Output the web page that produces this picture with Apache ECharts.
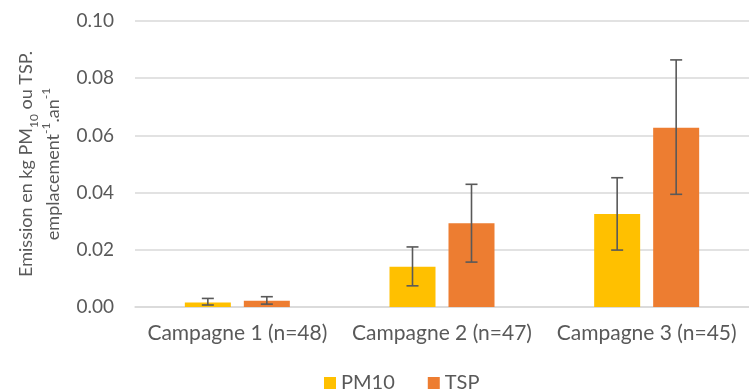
<!DOCTYPE html>
<html><head><meta charset="utf-8">
<script src="https://cdn.jsdelivr.net/npm/echarts@6/dist/echarts.min.js"></script>
<style>html,body{margin:0;padding:0;background:#fff}#c{width:749px;height:392px}</style>
</head><body><div id="c"></div>
<script>
const categories = ['Campagne 1 (n=48)', 'Campagne 2 (n=47)', 'Campagne 3 (n=45)'];
const pm10 = [0.0016, 0.0141, 0.0325];
const pm10Low = [0.0007, 0.0074, 0.0199];
const pm10High = [0.0030, 0.0210, 0.0452];
const tsp = [0.0022, 0.0293, 0.0627];
const tspLow = [0.0010, 0.0157, 0.0394];
const tspHigh = [0.0036, 0.0429, 0.0864];
const yTicks = [0, 0.02, 0.04, 0.06, 0.08, 0.10];

const FONT = 'Lato';
const BAR_W = 46, GAP = 13;
const OFF = (BAR_W + GAP) / 2;

function errSeries(low, high, dir) {
  return {
    type: 'custom',
    silent: true,
    z: 10,
    data: categories.map((c, i) => [i, low[i], high[i]]),
    renderItem: function (params, api) {
      const i = api.value(0);
      const p1 = api.coord([i, api.value(1)]);
      const p2 = api.coord([i, api.value(2)]);
      const x = p1[0] + dir * OFF;
      const cap = 6;
      const st = { stroke: '#595959', lineWidth: 1.6 };
      return {
        type: 'group',
        children: [
          { type: 'line', shape: { x1: x, y1: p1[1], x2: x, y2: p2[1] }, style: st },
          { type: 'line', shape: { x1: x - cap, y1: p1[1], x2: x + cap, y2: p1[1] }, style: st },
          { type: 'line', shape: { x1: x - cap, y1: p2[1], x2: x + cap, y2: p2[1] }, style: st }
        ]
      };
    }
  };
}

const chart = echarts.init(document.getElementById('c'));
chart.setOption({
  animation: false,
  textStyle: { fontFamily: FONT },
  grid: { left: 135, right: -4, top: 21, bottom: 85, containLabel: false },
  legend: {
    top: 368, left: 319,
    itemWidth: 12, itemHeight: 12, itemGap: 33,
    icon: 'rect',
    textStyle: { fontFamily: FONT, fontSize: 20, color: '#595959' },
    data: ['PM10', 'TSP']
  },
  xAxis: {
    type: 'category',
    data: categories,
    axisLine: { lineStyle: { color: '#D9D9D9', width: 1.5 } },
    axisTick: { show: false },
    axisLabel: { fontFamily: FONT, fontSize: 21, color: '#595959', margin: 16, interval: 0, hideOverlap: false }
  },
  yAxis: {
    type: 'value',
    min: 0, max: 0.10, interval: 0.02,
    axisLine: { show: false },
    axisTick: { show: false },
    splitLine: { lineStyle: { color: '#D9D9D9', width: 1.5 } },
    axisLabel: {
      fontFamily: FONT, fontSize: 19, color: '#595959', margin: 21,
      formatter: v => v.toFixed(2)
    },
    name: '{t|Emission en kg PM}{sub|10}{t| ou TSP.}\n{t|emplacement}{sup|-1}{t|.an}{sup|-1}',
    nameLocation: 'middle',
    nameRotate: 90,
    nameGap: 68,
    nameTextStyle: {
      fontFamily: FONT, color: '#595959', align: 'center',
      rich: {
        t: { fontFamily: FONT, fontSize: 18, color: '#595959', lineHeight: 27 },
        sub: { fontFamily: FONT, fontSize: 12, color: '#595959', verticalAlign: 'bottom', lineHeight: 27, padding: [7, 0, 0, 0] },
        sup: { fontFamily: FONT, fontSize: 12, color: '#595959', verticalAlign: 'top', lineHeight: 27, padding: [0, 0, 7, 0] }
      }
    }
  },
  series: [
    { name: 'PM10', type: 'bar', data: pm10, barWidth: BAR_W, barGap: (GAP / BAR_W * 100) + '%', itemStyle: { color: '#FFC000' } },
    { name: 'TSP', type: 'bar', data: tsp, barWidth: BAR_W, itemStyle: { color: '#ED7D31' } },
    errSeries(pm10Low, pm10High, -1),
    errSeries(tspLow, tspHigh, 1)
  ]
});
</script></body></html>
